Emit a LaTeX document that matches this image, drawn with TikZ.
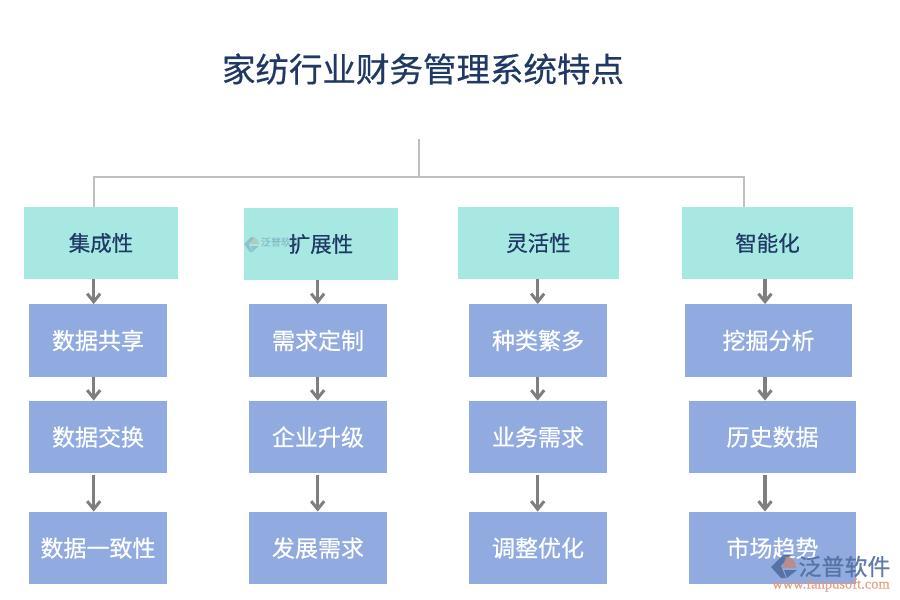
\documentclass[tikz,border=0pt]{standalone}
\usepackage{fontspec}
\setmainfont{Liberation Serif}
\newfontfamily\cjk[FakeBold=0.5]{Noto Sans CJK SC}
\newfontfamily\urlfont[FakeBold=0.5]{Liberation Serif}
\usetikzlibrary{arrows.meta, calc}
\definecolor{headfill}{HTML}{A8E8E2}
\definecolor{subfill}{HTML}{91ABE1}
\definecolor{titleblue}{HTML}{1F3864}
\definecolor{flowgray}{HTML}{7F7F7F}
\definecolor{treegray}{HTML}{BFBFBF}
\definecolor{markblue}{HTML}{4F6E9F}
\definecolor{markred}{HTML}{BC8B84}
\definecolor{markorange}{HTML}{E09A7C}
\tikzset{
headbox/.style={fill=headfill,text=titleblue,inner sep=0pt,minimum height=72pt,font=\cjk\fontsize{21.5}{21.5}\selectfont},
subbox/.style={fill=subfill,text=white,inner sep=0pt,minimum height=72.5pt,font=\cjk\fontsize{23}{23}\selectfont},
flow/.style={draw=flowgray,line width=3.4pt,-{Straight Barb[length=8pt,width=13pt,line width=3pt]}},
tree/.style={draw=treegray,line width=1.6pt}
}
\begin{document}
\begin{tikzpicture}[x=1pt,y=-1pt]
\useasboundingbox (0,0) rectangle (900,600);
\node [font=\cjk\fontsize{33.5}{33.5}\selectfont,text=titleblue] (title) at (423,69) {家纺行业财务管理系统特点};
% the header boxes: name/centre x/centre y/width/text
\foreach \col/\x/\y/\w/\txt in {a/101/243/154/集成性,b/321/244/154/扩展性,c/538.5/243/161/灵活性,d/767.5/243/171/智能化}
{
\node [headbox,minimum width=\w pt] (head \col) at (\x,\y) {\txt};
}
% the boxes below them
\foreach \col/\x/\w/\txt in {a/98/138/数据共享,b/318/138/需求定制,c/538/138/种类繁多,d/768.5/167/挖掘分析}
{
\node [subbox,minimum width=\w pt] (sub \col 1) at (\x,340.5) {\txt};
}
\foreach \col/\x/\w/\txt in {a/98/138/数据交换,b/318/138/企业升级,c/538/138/业务需求,d/772.5/167/历史数据}
{
\node [subbox,minimum width=\w pt] (sub \col 2) at (\x,437) {\txt};
}
\foreach \col/\x/\w/\txt in {a/98/138/数据一致性,b/318/138/发展需求,c/538/138/调整优化,d/772.5/167/市场趋势}
{
\node [subbox,minimum width=\w pt] (sub \col 3) at (\x,548) {\txt};
}
% the tree at the top
\coordinate (root) at (419,139);
\coordinate (fork) at (419,177);
\coordinate (drop a) at (94,207);
\coordinate (drop d) at (744,207);
\draw [tree] (root) -- (fork);
\draw [tree] (drop a) |- (fork) -| (drop d);
% the arrows run down at one x in each column
\foreach \col/\x in {a/93.7,b/317.7,c/537.7,d/765}
{
\coordinate (axis \col) at (\x,0);
\draw [flow] (head \col.south -| axis \col) -- (sub \col 1.north -| axis \col);
\draw [flow] (sub \col 1.south -| axis \col) -- (sub \col 2.north -| axis \col);
\draw [flow] ($(sub \col 2.south -| axis \col)+(0,2)$) -- (sub \col 3.north -| axis \col);
}
% faint mark in the second header
\begin{scope}[opacity=0.3]
\fill [markblue] (244,244) -- (251,237) -- (254,237) -- (249,244) -- (252,252) -- (250,252) -- cycle;
\fill [markred] (252,238) .. controls (256,237) and (259,240) .. (259,244) -- (250,244) -- cycle;
\fill [markblue] (252,252) -- (259,246) -- (251,246) -- cycle;
\node [text=markblue,inner sep=0pt,font=\cjk\fontsize{10}{10}\selectfont] (small mark) at (281,242) {泛普软件};
\end{scope}
% mark in the corner
\begin{scope}[opacity=0.9]
\fill [markblue] (771,567) -- (783,555) -- (791,555) -- (781,566) -- (786,578) -- (781,578) -- cycle;
\fill [markred] (786,557) .. controls (792,556) and (796,561) .. (796,568) -- (782,568) -- cycle;
\fill [markblue] (787,578) -- (797,570) -- (784,570) -- cycle;
\node [text=markblue,inner sep=0pt,font=\cjk\fontsize{23}{23}\selectfont] (corner mark) at (844.5,566.5) {泛普软件};
\node [text=markorange,inner sep=0pt,font=\urlfont\fontsize{14.5}{14.5}\selectfont] (corner url) at (831,585) {www.fanpusoft.com};
\end{scope}
\end{tikzpicture}
\end{document}
